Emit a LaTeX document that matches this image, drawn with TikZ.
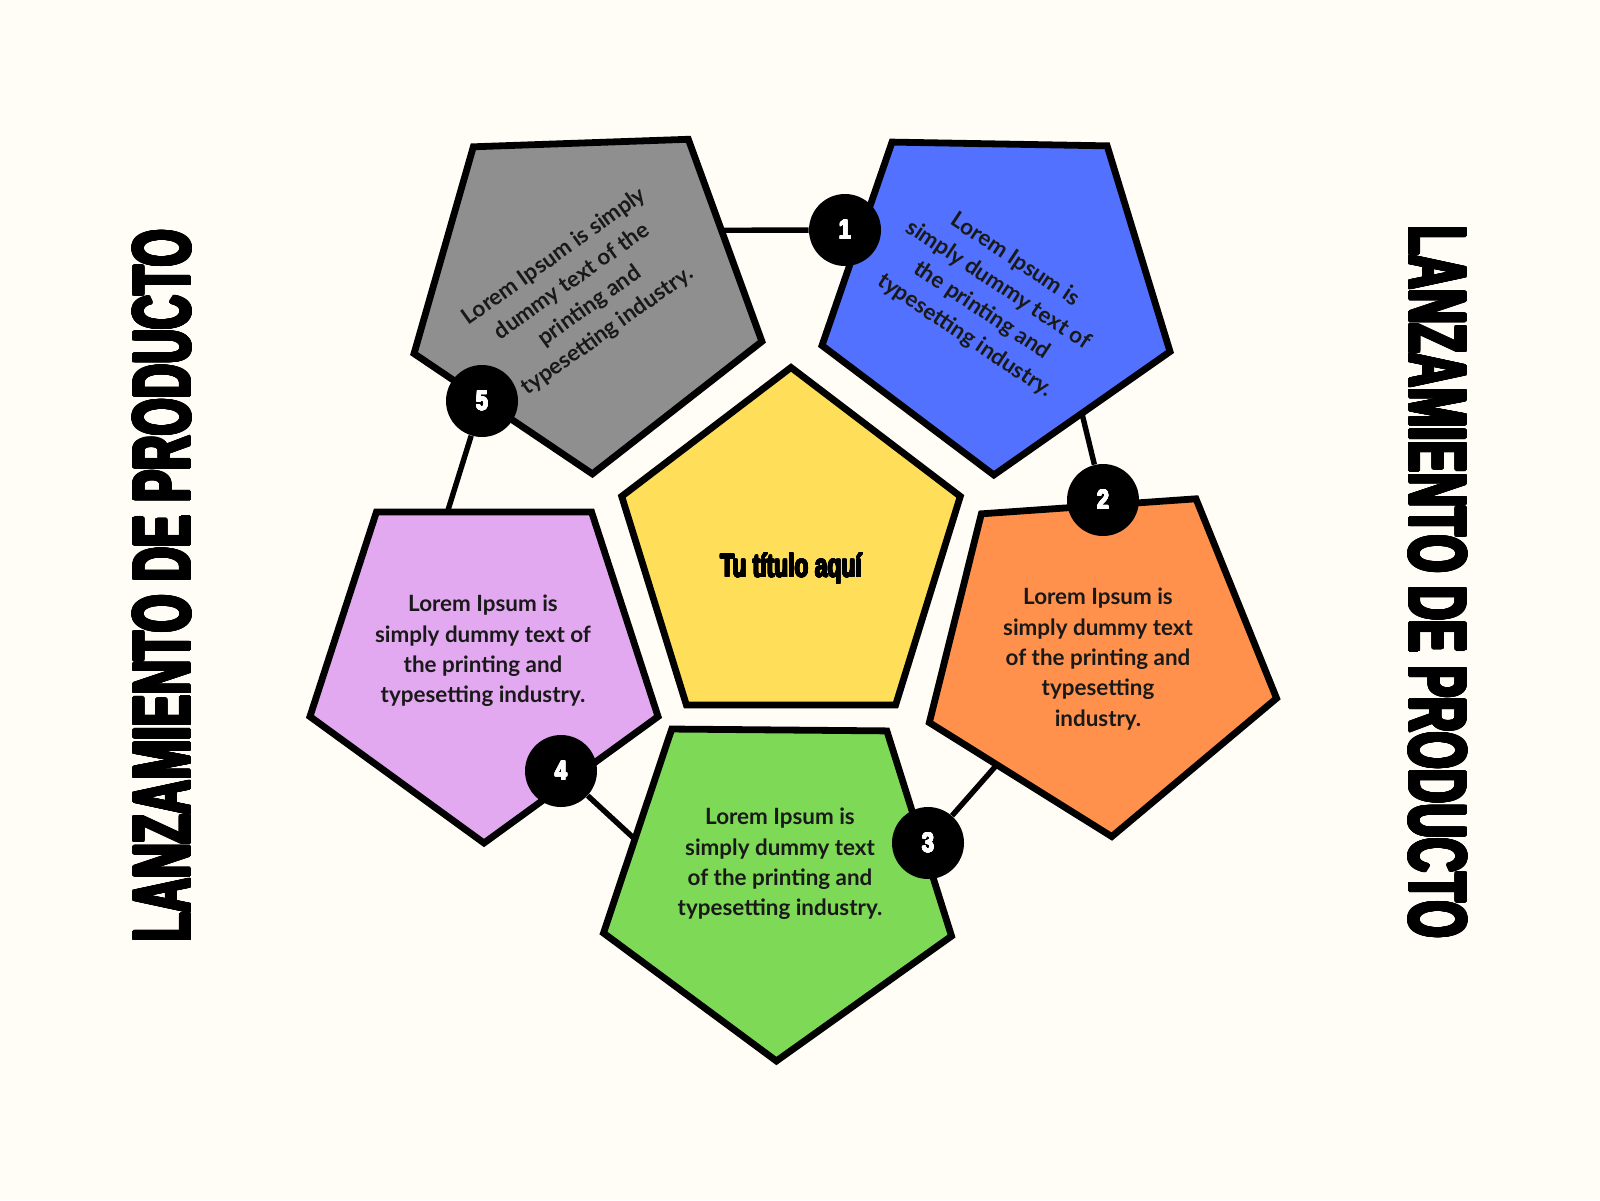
\documentclass[tikz,border=0pt]{standalone}
\usepackage{fontspec}
\setmainfont{Lato}
\newfontfamily\headfont{Liberation Sans}
\usepackage{graphicx}
\usepackage{contour}
\contournumber{24}
\usepackage{tikz}
\usetikzlibrary {backgrounds,
                 calc,
                 shapes.geometric}
\definecolor{paper}{HTML}{FFFDF6}
\definecolor{pgrey}{HTML}{8F8F8F}
\definecolor{pblue}{HTML}{5271FF}
\definecolor{pyellow}{HTML}{FFDE59}
\definecolor{porange}{HTML}{FF914D}
\definecolor{pgreen}{HTML}{7ED957}
\definecolor{ppurple}{HTML}{E2A9F1}
\tikzset{
        penta/.style={regular polygon, regular polygon sides=5, draw,
                      line width=3.4pt, line join=miter, inner sep=0pt,
                      outer sep=0pt, minimum size=183pt},
        petal/.style={penta, regular polygon rotate=#1},
        blurb/.style={align=center, text=black!90,
                      font=\bfseries\fontsize{11.2}{15.2}\selectfont},
        badge/.style={circle, fill=black, minimum size=36pt, inner sep=0pt,
                      text=white, font=\headfont\bfseries\fontsize{13.6}{14}\selectfont},
        link/.style={line width=2.7pt, shorten >=-6pt},
        sidetitle/.style={font=\headfont\bfseries\fontsize{40.5}{44}\selectfont},
 }

\begin{document}
\begin{tikzpicture}[x=0.5pt, y=-0.5pt]
    \useasboundingbox (0,0) rectangle (1600,1200);

    \contourlength{0.8pt}
    \node[sidetitle, rotate=90] (titleL) at (163,586) {\contour{black}{\scalebox{0.59}[1]{LANZAMIENTO DE PRODUCTO}}};
    \node[sidetitle, rotate=-90] (titleR) at (1437,582) {\contour{black}{\scalebox{0.59}[1]{LANZAMIENTO DE PRODUCTO}}};

    \begin{scope}[shift={(791,554)}, yscale=1.048]
        \node[penta, transform shape, minimum size=178pt, fill=pyellow] (hub) at (0,0) {};
    \end{scope}
    \contourlength{0.3pt}
    \node[anchor=base] (hubText) at (791,577) {\headfont\bfseries\fontsize{16.3}{18}\selectfont\contour{black}{\scalebox{0.7}[1]{Tu título aquí}}};

    \node[petal=182, fill=pgrey] (grey) at (586,291) {};
    \node[petal=179, fill=pblue] (blue) at (997,292) {};
    \node[petal=184, fill=porange] (orange) at (1099,654) {};
    \node[petal=179.5, fill=pgreen] (green) at (778,878) {};
    \node[petal=180, fill=ppurple] (purple) at (484,660) {};

    \node[blurb, rotate=35.5] (greyText) at (581,294) {Lorem Ipsum is simply\\dummy text of the\\printing and\\typesetting industry.};
    \node[blurb, rotate=-33.5] (blueText) at (990,298) {Lorem Ipsum is\\simply dummy text of\\the printing and\\typesetting industry.};
    \node[blurb] (orangeText) at (1098,659) {Lorem Ipsum is\\simply dummy text\\of the printing and\\typesetting\\industry.};
    \node[blurb] (greenText) at (780,864) {Lorem Ipsum is\\simply dummy text\\of the printing and\\typesetting industry.};
    \node[blurb] (purpleText) at (483,651) {Lorem Ipsum is\\simply dummy text of\\the printing and\\typesetting industry.};

    \contourlength{0.25pt}
    \node[badge] (n1) at (845,230) {\contour{white}{\scalebox{0.8}[1]{1}}};
    \node[badge] (n2) at (1103,500) {\contour{white}{\scalebox{0.8}[1]{2}}};
    \node[badge] (n3) at (928,843) {\contour{white}{\scalebox{0.8}[1]{3}}};
    \node[badge] (n4) at (561,771) {\contour{white}{\scalebox{0.8}[1]{4}}};
    \node[badge] (n5) at (482,401) {\contour{white}{\scalebox{0.8}[1]{5}}};

    \begin{scope}[on background layer]
        \fill[paper] (0,0) rectangle (1600,1200);
        \draw[link] (n1) -- ($(grey.corner 3)!0.45!(grey.corner 2)$);
        \draw[link] (n2) -- ($(blue.corner 1)!0.5!(blue.corner 2)$);
        \draw[link] (n3) -- ($(orange.corner 5)!0.37!(orange.corner 1)$);
        \draw[link] (n4) -- ($(green.corner 4)!0.54!(green.corner 5)$);
        \draw[link] (n5) -- ($(purple.corner 4)!0.33!(purple.corner 3)$);
    \end{scope}
\end{tikzpicture}
\end{document}
